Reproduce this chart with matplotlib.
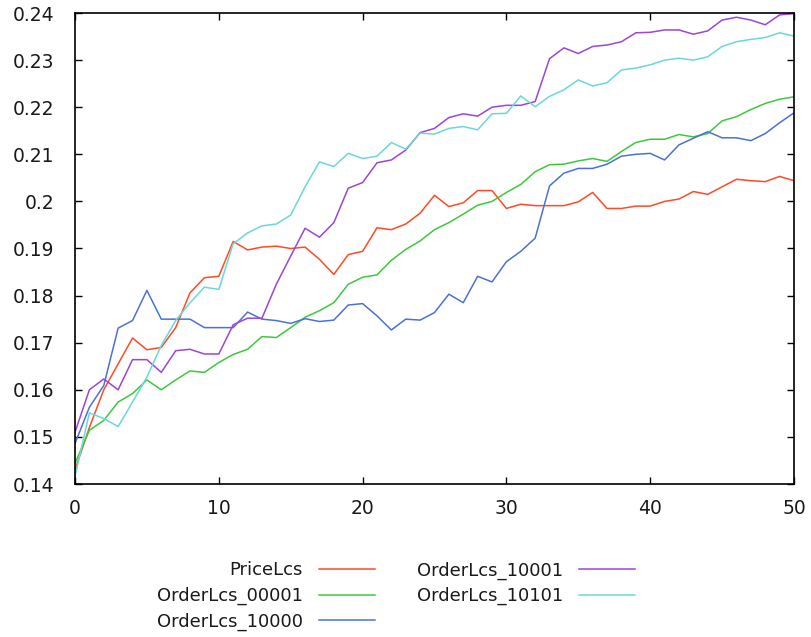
import matplotlib
matplotlib.use("Agg")
import matplotlib.pyplot as plt
import numpy as np

x = list(range(51))

price_lcs = [0.1430, 0.1520, 0.1600, 0.1655, 0.1710, 0.1685, 0.1690, 0.1732, 0.1806, 0.1838,
             0.1841, 0.1915, 0.1897, 0.1903, 0.1905, 0.1900, 0.1903, 0.1877, 0.1845, 0.1887,
             0.1894, 0.1944, 0.1940, 0.1952, 0.1975, 0.2013, 0.1989, 0.1997, 0.2023, 0.2023,
             0.1985, 0.1994, 0.1991, 0.1991, 0.1991, 0.1999, 0.2019, 0.1985, 0.1985, 0.1990,
             0.1990, 0.2000, 0.2005, 0.2021, 0.2015, 0.2031, 0.2047, 0.2044, 0.2042, 0.2053,
             0.2044]

order_00001 = [0.1444, 0.1514, 0.1535, 0.1574, 0.1592, 0.1621, 0.1600, 0.1621, 0.1640, 0.1637,
               0.1658, 0.1675, 0.1686, 0.1713, 0.1711, 0.1732, 0.1754, 0.1768, 0.1785, 0.1824,
               0.1839, 0.1844, 0.1875, 0.1898, 0.1916, 0.1940, 0.1955, 0.1973, 0.1992, 0.2000,
               0.2019, 0.2036, 0.2063, 0.2078, 0.2079, 0.2086, 0.2091, 0.2085, 0.2106, 0.2125,
               0.2132, 0.2132, 0.2142, 0.2137, 0.2144, 0.2171, 0.2180, 0.2195, 0.2208, 0.2217,
               0.2222]

order_10000 = [0.1486, 0.1563, 0.1609, 0.1731, 0.1747, 0.1811, 0.1750, 0.1750, 0.1750, 0.1732,
               0.1732, 0.1732, 0.1765, 0.1750, 0.1747, 0.1741, 0.1751, 0.1745, 0.1748, 0.1780,
               0.1783, 0.1757, 0.1727, 0.1750, 0.1748, 0.1764, 0.1803, 0.1785, 0.1841, 0.1829,
               0.1872, 0.1894, 0.1922, 0.2033, 0.2060, 0.2070, 0.2070, 0.2079, 0.2096, 0.2100,
               0.2102, 0.2088, 0.2120, 0.2134, 0.2148, 0.2135, 0.2135, 0.2129, 0.2144, 0.2167,
               0.2188]

order_10001 = [0.1510, 0.1600, 0.1623, 0.1600, 0.1664, 0.1664, 0.1637, 0.1683, 0.1686, 0.1676,
               0.1676, 0.1738, 0.1752, 0.1752, 0.1824, 0.1884, 0.1943, 0.1924, 0.1955, 0.2028,
               0.2040, 0.2082, 0.2088, 0.2109, 0.2146, 0.2155, 0.2178, 0.2186, 0.2181, 0.2200,
               0.2204, 0.2204, 0.2212, 0.2303, 0.2326, 0.2314, 0.2329, 0.2332, 0.2339, 0.2358,
               0.2359, 0.2364, 0.2364, 0.2355, 0.2362, 0.2385, 0.2391, 0.2385, 0.2375, 0.2396,
               0.2399]

order_10101 = [0.1416, 0.1551, 0.1539, 0.1522, 0.1574, 0.1627, 0.1694, 0.1747, 0.1785, 0.1818,
               0.1813, 0.1910, 0.1933, 0.1948, 0.1952, 0.1971, 0.2031, 0.2084, 0.2074, 0.2102,
               0.2091, 0.2096, 0.2125, 0.2111, 0.2145, 0.2143, 0.2155, 0.2159, 0.2152, 0.2186,
               0.2187, 0.2224, 0.2201, 0.2223, 0.2237, 0.2258, 0.2245, 0.2252, 0.2279, 0.2283,
               0.2290, 0.2300, 0.2304, 0.2300, 0.2307, 0.2329, 0.2339, 0.2344, 0.2348, 0.2358,
               0.2351]

labels = ["PriceLcs", "OrderLcs_00001", "OrderLcs_10000", "OrderLcs_10001", "OrderLcs_10101"]
colors = ["#ff4a26", "#3ec83e", "#4a72d6", "#9c44dc", "#6ad8d8"]

x_ticks = [0, 10, 20, 30, 40, 50]
y_ticks = [0.14, 0.15, 0.16, 0.17, 0.18, 0.19, 0.2, 0.21, 0.22, 0.23, 0.24]

plt.rcParams['font.family'] = ['DejaVu Sans']
fig = plt.figure(figsize=(8.11, 6.37), dpi=100)
ax = fig.add_axes([75/811, 1 - 484/637, (794 - 75)/811, (484 - 13)/637])

series = [price_lcs, order_00001, order_10000, order_10001, order_10101]
for s, lab, c in zip(series, labels, colors):
    ax.plot(x, s, color=c, lw=1.1, label=lab)

ax.set_xlim(0, 50)
ax.set_ylim(0.14, 0.24)
ax.set_xticks(x_ticks)
ax.set_yticks(y_ticks)
ax.set_yticklabels(["%g" % v for v in y_ticks])
ax.set_xticklabels(["%g" % v for v in x_ticks])
ax.tick_params(direction="in", length=5, width=1, top=True, right=True,
               labelsize=13.5, labelcolor="#1a1a1a", colors="black")
ax.tick_params(axis="x", pad=11)
ax.tick_params(axis="y", pad=15)
for sp in ax.spines.values():
    sp.set_linewidth(1.2)

leg = fig.legend(loc="upper center", bbox_to_anchor=(396/811, 1 - 545/637), ncol=2,
                 markerfirst=False, frameon=False, fontsize=13,
                 handlelength=3.1, columnspacing=2.3, labelspacing=0.42,
                 handletextpad=0.9)
for t in leg.get_texts():
    t.set_color("#1a1a1a")

fig.savefig("out.png", dpi=100)
